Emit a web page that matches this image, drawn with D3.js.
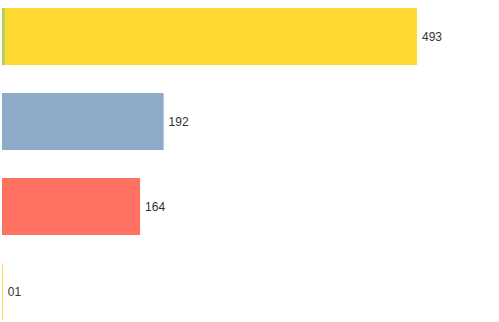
<!DOCTYPE html>
<html>
<head>
<meta charset="utf-8">
<script src="https://cdn.jsdelivr.net/npm/d3@7"></script>
<style>
  body { margin: 0; background: #fff; }
  svg { display: block; }
</style>
</head>
<body>
<svg id="canvas"></svg>
<script>
let categories = ['a', 'b', 'c', 'd']
// each bar is a stack of segments
let segmentValues = [[4, 489], [192], [164], [1]]
let segmentColors = [['#b3d44a', '#ffd92f'], ['#8eaac9'], ['#ff7261'], ['#ffd92f']]
let labelTexts = ['493', '192', '164', '01']

let width = 499
let height = 322

let canvas = d3.select('#canvas')
    .attr('width', width)
    .attr('height', height)

let totals = segmentValues.map(s => d3.sum(s))

let yScale = d3.scaleBand()
    .domain(categories)
    .range([8, 320])
    .paddingInner(28 / 85)
    .paddingOuter(0)

let xScale = d3.scaleLinear()
    .domain([0, d3.max(totals)])
    .range([2, 417])

let rows = canvas.selectAll('g.row')
    .data(categories)
    .enter()
    .append('g')
    .attr('class', 'row')

rows.each(function (cat, i) {
    let g = d3.select(this)
    let acc = 0
    let segs = segmentValues[i].map((v, j) => {
        let s = { start: acc, end: acc + v, color: segmentColors[i][j] }
        acc += v
        return s
    })
    g.selectAll('rect')
        .data(segs)
        .enter()
        .append('rect')
        .attr('x', d => xScale(d.start))
        .attr('y', yScale(cat))
        .attr('width', d => xScale(d.end) - xScale(d.start))
        .attr('height', yScale.bandwidth())
        .attr('fill', d => d.color)

    g.append('text')
        .attr('x', xScale(totals[i]) + 5)
        .attr('y', yScale(cat) + yScale.bandwidth() / 2)
        .attr('dy', '0.35em')
        .attr('font-family', 'Liberation Sans, Arial, sans-serif')
        .attr('font-size', 12)
        .attr('fill', '#333')
        .text(labelTexts[i])
})
</script>
</body>
</html>
